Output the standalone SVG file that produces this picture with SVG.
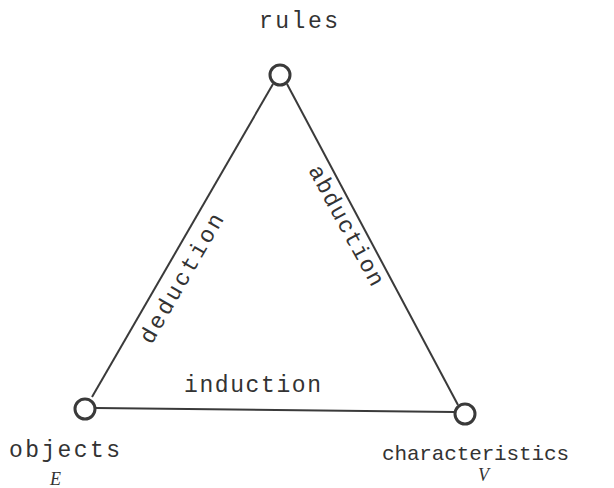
<svg xmlns="http://www.w3.org/2000/svg" width="614" height="488" viewBox="0 0 614 488">
<style>
.edge{stroke:#3a3a3a;stroke-width:2;fill:none}
.node{stroke:#3a3a3a;stroke-width:3;fill:#fff}
.lbl{font-family:"Liberation Mono","DejaVu Sans Mono",monospace;font-size:23px;fill:#333}
.var{font-family:"Liberation Serif",serif;font-style:italic;font-size:18px;fill:#333}
</style>
<rect width="614" height="488" fill="#fff"/>
<g id="connectors">
<line class="edge" x1="273" y1="84" x2="92" y2="397"/>
<line class="edge" x1="287" y1="84" x2="458" y2="405"/>
<line class="edge" x1="96" y1="408" x2="454" y2="412"/>
<text class="lbl" x="184" y="392" textLength="137" lengthAdjust="spacing">induction</text>
<text class="lbl" text-anchor="middle" transform="translate(188,282) rotate(-60)" textLength="146" lengthAdjust="spacing">deduction</text>
<text class="lbl" text-anchor="middle" transform="translate(340,229) rotate(61.5)" textLength="134" lengthAdjust="spacing">abduction</text>
</g>
<g id="rules">
<circle class="node" cx="280" cy="75" r="10"/>
<text class="lbl" x="259" y="28" textLength="79" lengthAdjust="spacing">rules</text>
</g>
<g id="objects">
<circle class="node" cx="85" cy="409" r="10"/>
<text class="lbl" x="9" y="457" textLength="111" lengthAdjust="spacing">objects</text>
<text class="var" x="50" y="485">E</text>
</g>
<g id="characteristics">
<circle class="node" cx="465" cy="414" r="10"/>
<text class="lbl" x="382" y="460" style="font-size:21px" textLength="187" lengthAdjust="spacing">characteristics</text>
<text class="var" x="478" y="481">V</text>
</g>
</svg>
